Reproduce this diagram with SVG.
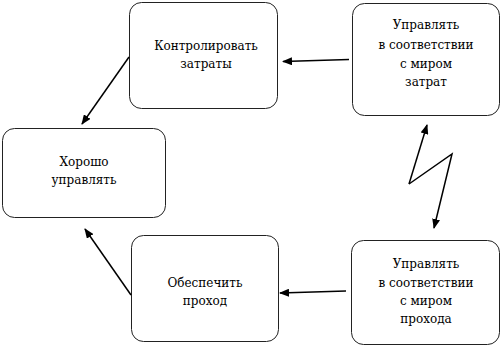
<svg xmlns="http://www.w3.org/2000/svg" width="504" height="348" viewBox="0 0 504 348">
<style>
.box{fill:#fff;stroke:#222;stroke-width:1}
.c{fill:none;stroke:#000;stroke-width:1.5}
</style>
<defs>
<marker id="ah" markerWidth="10" markerHeight="8" refX="9" refY="4" orient="auto" markerUnits="userSpaceOnUse">
<path d="M0,0 L10,4 L0,8 Z" fill="#000"/>
</marker>
</defs>
<rect width="504" height="348" fill="#fff"/>
<g font-family="DejaVu Serif, serif" font-size="12" text-anchor="middle" fill="#000">
<g id="n1">
<rect class="box" x="129.5" y="2.5" width="148" height="106" rx="12"/>
<text x="206" y="50">Контролировать</text>
<text x="206" y="68">затраты</text>
</g>
<g id="n2">
<rect class="box" x="352.5" y="3.5" width="147" height="112" rx="12"/>
<text x="426" y="29">Управлять</text>
<text x="426" y="49">в соответствии</text>
<text x="426" y="68">с миром</text>
<text x="426" y="86">затрат</text>
</g>
<g id="n3">
<rect class="box" x="2.5" y="128.5" width="163" height="89" rx="12"/>
<text x="84" y="166">Хорошо</text>
<text x="84" y="184">управлять</text>
</g>
<g id="n4">
<rect class="box" x="131.5" y="235.5" width="147" height="106" rx="12"/>
<text x="205" y="287">Обеспечить</text>
<text x="205" y="305">проход</text>
</g>
<g id="n5">
<rect class="box" x="351.5" y="240.5" width="148" height="104" rx="12"/>
<text x="426" y="268">Управлять</text>
<text x="426" y="287">в соответствии</text>
<text x="426" y="305">с миром</text>
<text x="426" y="323">прохода</text>
</g>
</g>
<g id="connectors">
<line class="c" x1="349" y1="59.5" x2="283" y2="61.5" marker-end="url(#ah)"/>
<line class="c" x1="129" y1="57" x2="82" y2="124" marker-end="url(#ah)"/>
<line class="c" x1="131" y1="295" x2="85" y2="229" marker-end="url(#ah)"/>
<line class="c" x1="346" y1="291" x2="280" y2="293" marker-end="url(#ah)"/>
<polyline class="c" points="409,184 427,125" marker-end="url(#ah)"/>
<polyline class="c" points="409,184 452,154 434,228" marker-end="url(#ah)"/>
</g>
</svg>
